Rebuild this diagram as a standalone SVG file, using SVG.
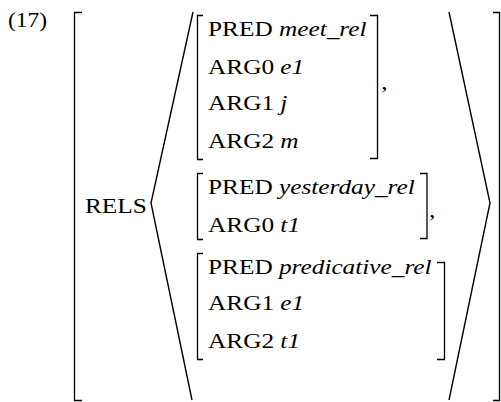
<svg xmlns="http://www.w3.org/2000/svg" width="501" height="402" viewBox="0 0 501 402">
<style>
  .t { font-family: "Liberation Serif", "Times New Roman", serif; font-size: 22px; fill: #000; }
  .i { font-style: italic; }
  .br { fill: none; stroke: #000; stroke-width: 1.3; }
  .ang { fill: none; stroke: #000; stroke-width: 1.4; stroke-linejoin: miter; }
</style>
<rect width="501" height="402" fill="#fff"/>
<g id="label">
  <text class="t" transform="scale(1.12 1)" x="7.1" y="27.5" style="font-size:21px">(17)</text>
</g>
<g id="connectors">
  <path id="outer-left" class="br" d="M82,12.5 H74.5 V400.5 H82"/>
  <path id="outer-right" class="br" d="M493,12.5 H499.5 V400.5 H493" stroke="#888"/>
  <path id="angle-left" class="ang" d="M193,12 L151,203 L192,400"/>
  <path id="angle-right" class="ang" d="M449,12 L490,203 L449,400"/>
</g>
<g id="rels">
  <text class="t" transform="scale(1.15 1)" x="73.9" y="213">RELS</text>
</g>
<g id="avm1">
  <path class="br" d="M203,15.5 H197.5 V159.5 H203"/>
  <path class="br" d="M370,15.5 H377.5 V158.5 H370"/>
  <g transform="scale(1.15 1)">
    <text class="t" x="180.9" y="36">PRED <tspan class="i">meet_rel</tspan></text>
    <text class="t" x="180.9" y="74">ARG0 <tspan class="i">e1</tspan></text>
    <text class="t" x="180.9" y="110">ARG1 <tspan class="i">j</tspan></text>
    <text class="t" x="180.9" y="148">ARG2 <tspan class="i">m</tspan></text>
    <text class="t" x="331.5" y="89">,</text>
  </g>
</g>
<g id="avm2">
  <path class="br" d="M203,173.5 H197.5 V239.5 H203"/>
  <path class="br" d="M420,173.5 H427 V238.5 H420"/>
  <g transform="scale(1.15 1)">
    <text class="t" x="180.9" y="194">PRED <tspan class="i">yesterday_rel</tspan></text>
    <text class="t" x="180.9" y="232">ARG0 <tspan class="i">t1</tspan></text>
    <text class="t" x="373" y="217">,</text>
  </g>
</g>
<g id="avm3">
  <path class="br" d="M203,253.5 H197.5 V359.5 H203"/>
  <path class="br" d="M437,262.5 H444.5 V359.5 H437"/>
  <g transform="scale(1.15 1)">
    <text class="t" x="180.9" y="274">PRED <tspan class="i">predicative_rel</tspan></text>
    <text class="t" x="180.9" y="310">ARG1 <tspan class="i">e1</tspan></text>
    <text class="t" x="180.9" y="348">ARG2 <tspan class="i">t1</tspan></text>
  </g>
</g>
</svg>
